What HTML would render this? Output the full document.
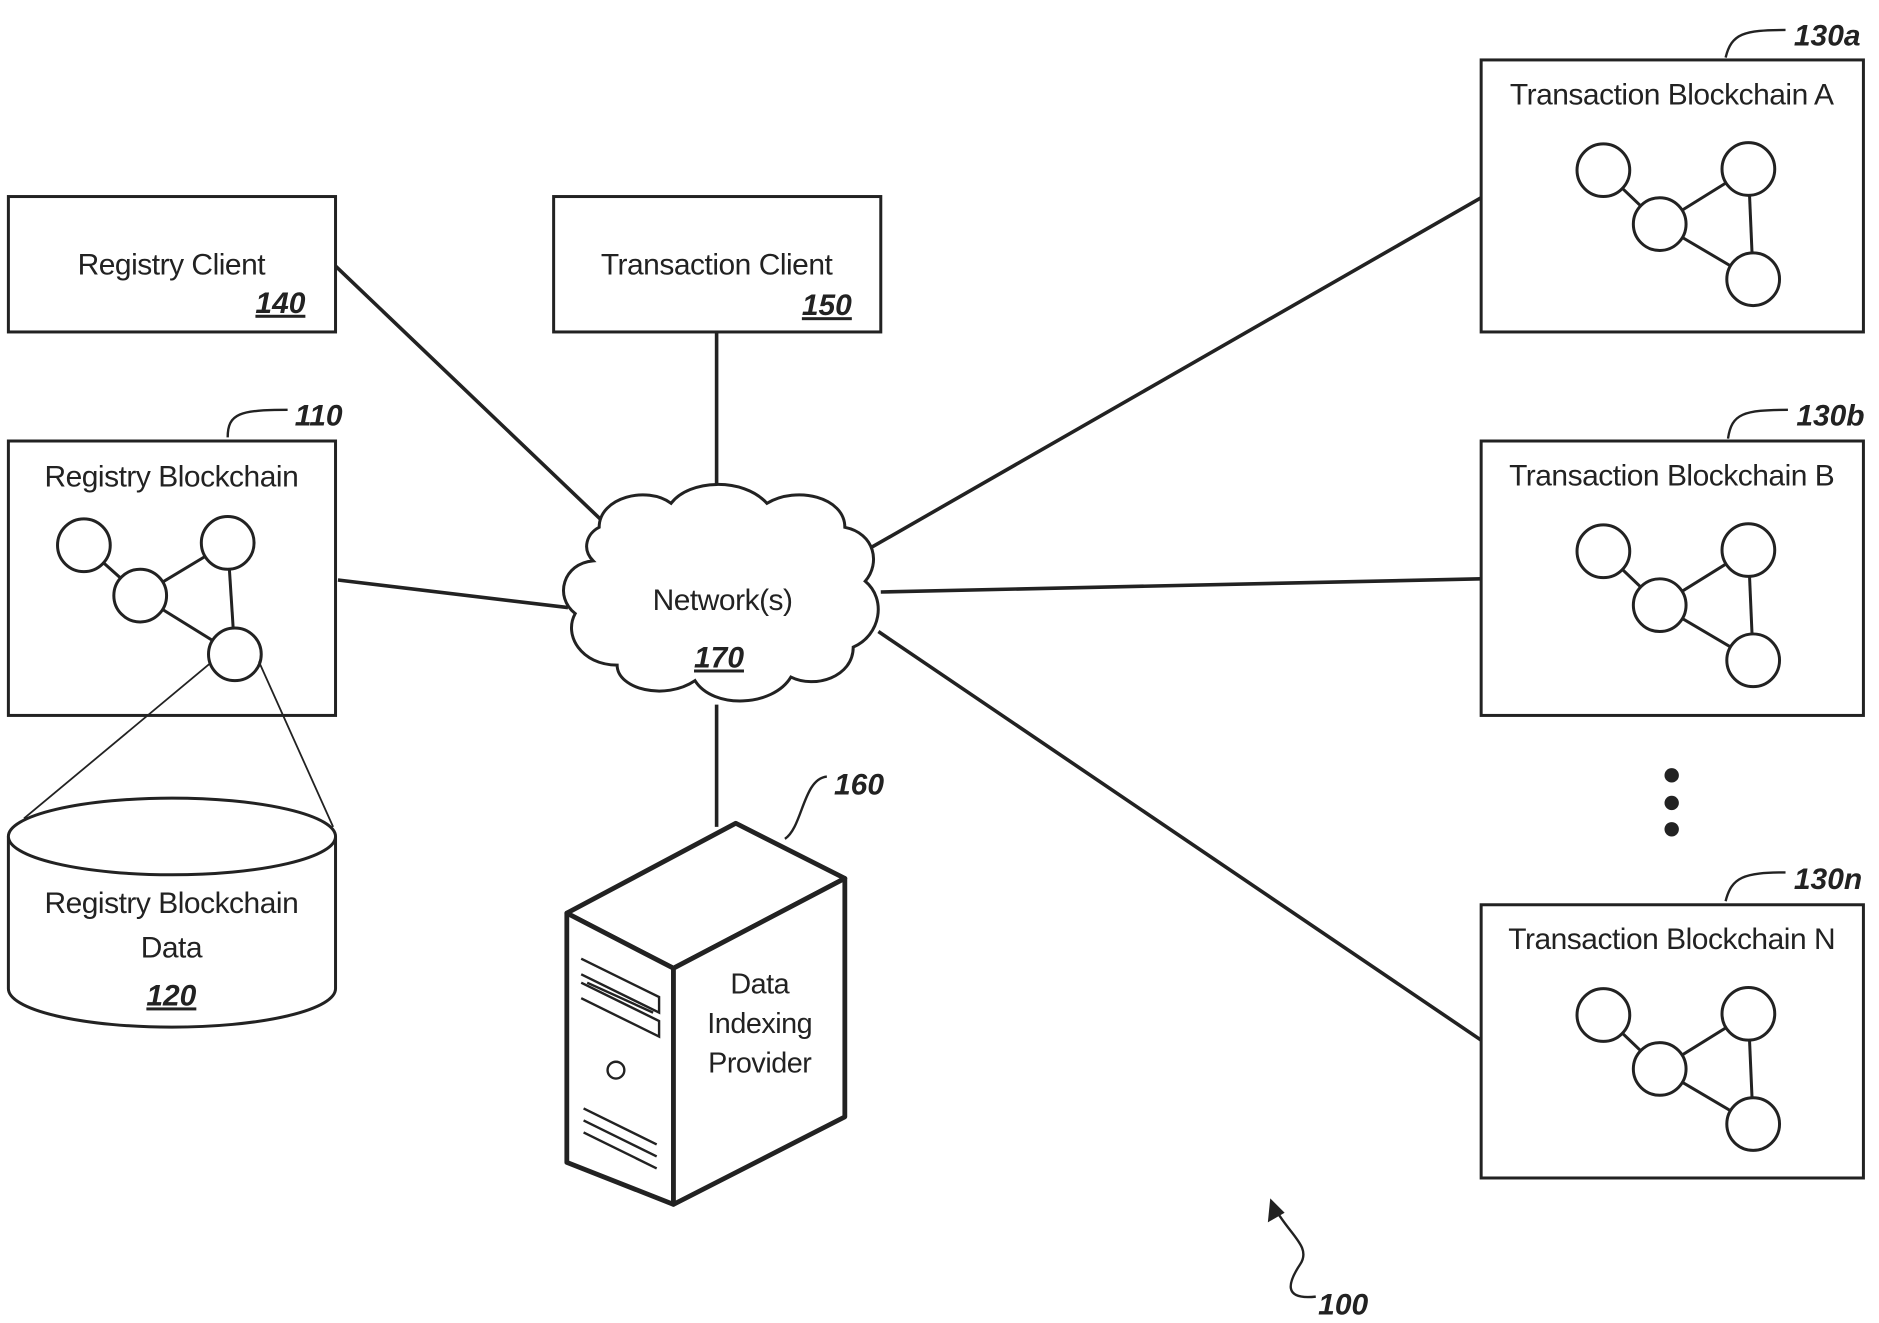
<!DOCTYPE html>
<html><head><meta charset="utf-8"><style>
html,body{margin:0;padding:0;background:#fff;width:1879px;height:1323px;overflow:hidden}
svg{display:block}
text{font-family:"Liberation Sans",sans-serif;fill:#222}
.t{font-size:25px;text-anchor:middle;letter-spacing:-0.4px}
.r{font-size:25px;font-style:italic;font-weight:bold;text-anchor:middle;text-decoration:underline}
.l{font-size:25px;font-style:italic;font-weight:bold}
</style></head><body>
<svg width="1879" height="1323" viewBox="0 0 1568 1104" xmlns="http://www.w3.org/2000/svg">
<defs>
<g id="net" fill="#fff" stroke="#222" stroke-width="2.5">
<line x1="1338" y1="142" x2="1385" y2="187"/><line x1="1385" y1="187" x2="1459" y2="141"/>
<line x1="1385" y1="187" x2="1463" y2="233"/><line x1="1459" y1="141" x2="1463" y2="233"/>
<circle cx="1338" cy="142" r="22"/><circle cx="1459" cy="141" r="22"/>
<circle cx="1385" cy="187" r="22"/><circle cx="1463" cy="233" r="22"/>
</g>
</defs>
<g stroke="#222" stroke-width="3" fill="none">
<line x1="280" y1="222" x2="505" y2="437"/>
<line x1="598" y1="277" x2="598" y2="418"/>
<line x1="282" y1="484" x2="474" y2="507"/>
<line x1="598" y1="588" x2="598" y2="690"/>
<line x1="725" y1="458" x2="1236" y2="165"/>
<line x1="735" y1="494" x2="1236" y2="483"/>
<line x1="733" y1="527" x2="1236" y2="868"/>
</g>
<g stroke="#222" stroke-width="2.5" fill="#fff">
<rect x="7" y="164" width="273" height="113"/>
<rect x="462" y="164" width="273" height="113"/>
<rect x="7" y="368" width="273" height="229"/>
<rect x="1236" y="50" width="319" height="227"/>
<rect x="1236" y="368" width="319" height="229"/>
<rect x="1236" y="755" width="319" height="228"/>
</g>
<text class="t" x="143" y="229">Registry Client</text><text class="r" x="234" y="261">140</text>
<text class="t" x="598" y="229">Transaction Client</text><text class="r" x="690" y="263">150</text>
<text class="t" x="143" y="406">Registry Blockchain</text>
<text class="t" x="1395" y="87">Transaction Blockchain A</text>
<text class="t" x="1395" y="405">Transaction Blockchain B</text>
<text class="t" x="1395" y="792">Transaction Blockchain N</text>
<use href="#net"/>
<use href="#net" transform="translate(0,318)"/>
<use href="#net" transform="translate(0,705)"/>
<g fill="#fff" stroke="#222" stroke-width="2.5">
<line x1="70" y1="455" x2="117" y2="497"/><line x1="117" y1="497" x2="190" y2="453"/>
<line x1="117" y1="497" x2="196" y2="546"/><line x1="190" y1="453" x2="196" y2="546"/>
<circle cx="70" cy="455" r="22"/><circle cx="190" cy="453" r="22"/>
<circle cx="117" cy="497" r="22"/><circle cx="196" cy="546" r="22"/>
</g>
<g stroke="#222" stroke-width="1.5"><line x1="176" y1="553" x2="20" y2="683"/><line x1="216" y1="552" x2="278" y2="690"/></g>
<g stroke="#222" stroke-width="2.5" fill="#fff">
<path d="M7 698 L7 825 A136 32 0 0 0 280 825 L280 698"/>
<ellipse cx="143.5" cy="698" rx="136.5" ry="32"/>
</g>
<text class="t" x="143" y="762">Registry Blockchain</text>
<text class="t" x="143" y="799">Data</text>
<text class="r" x="143" y="839">120</text>
<g fill="#222"><circle cx="1395" cy="647" r="6"/><circle cx="1395" cy="670" r="6"/><circle cx="1395" cy="692" r="6"/></g>
<path d="M500 440 C500 415 540 405 560 420 C575 400 620 398 640 420 C665 405 705 415 705 440 C730 445 735 470 722 485 C740 500 735 530 712 540 C712 565 680 575 660 565 C645 590 595 592 580 568 C555 585 515 575 515 555 C485 555 470 530 480 512 C462 498 470 470 495 468 C485 458 490 445 500 440 Z" fill="#fff" stroke="#222" stroke-width="2.5"/>
<text class="t" x="603" y="509">Network(s)</text>
<text class="r" x="600" y="557">170</text>
<g stroke="#222" stroke-width="4" fill="#fff" stroke-linejoin="round">
<polygon points="473,762 614,687 705,733 562,808"/>
<polygon points="473,762 562,808 562,1005 473,970"/>
<polygon points="562,808 705,733 705,932 562,1005"/>
</g>
<g stroke="#222" stroke-width="2" fill="none">
<polyline points="485,800 550,832 550,845 485,813"/>
<polyline points="485,820 550,852 550,865 485,833"/>
<line x1="490" y1="820" x2="545" y2="845"/>
<circle cx="514" cy="893" r="7"/>
<line x1="487" y1="925" x2="548" y2="955"/>
<line x1="487" y1="935" x2="548" y2="965"/>
<line x1="487" y1="945" x2="548" y2="975"/>
</g>
<text class="t" x="634" y="829" style="font-size:24px">Data</text>
<text class="t" x="634" y="862" style="font-size:24px">Indexing</text>
<text class="t" x="634" y="895" style="font-size:24px">Provider</text>
<g stroke="#222" stroke-width="2" fill="none">
<path d="M190 365 C190 345 200 342 240 342"/>
<path d="M655 700 C670 690 670 650 690 648"/>
<path d="M1440 48 C1445 28 1455 25 1490 25"/>
<path d="M1442 366 C1445 345 1455 342 1492 342"/>
<path d="M1440 752 C1445 732 1455 728 1490 728"/>
<path d="M1098 1082 C1070 1085 1075 1070 1085 1055 C1095 1040 1075 1030 1062 1005"/>
</g>
<polygon points="1060,1000 1058,1020 1072,1012" fill="#222"/>
<text class="l" x="246" y="355">110</text>
<text class="l" x="696" y="663">160</text>
<text class="l" x="1497" y="38">130a</text>
<text class="l" x="1499" y="355">130b</text>
<text class="l" x="1497" y="742">130n</text>
<text class="l" x="1100" y="1097">100</text>
</svg>
</body></html>
